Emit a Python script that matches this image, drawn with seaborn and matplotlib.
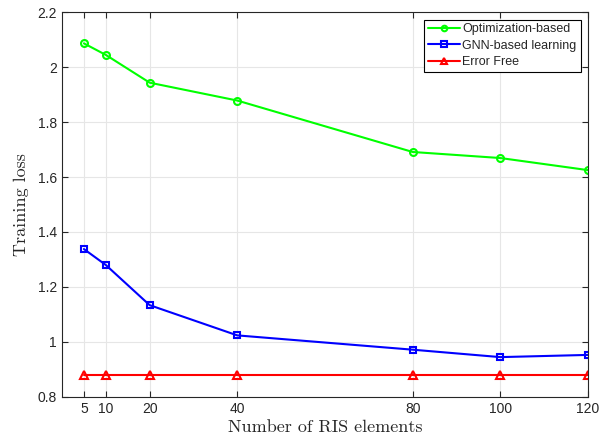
import matplotlib
matplotlib.use("Agg")
import matplotlib.pyplot as plt
import seaborn as sns
import pandas as pd

ris_elements = [5, 10, 20, 40, 80, 100, 120]
optimization_based = [2.086, 2.044, 1.943, 1.878, 1.691, 1.669, 1.625]
gnn_based = [1.338, 1.280, 1.134, 1.024, 0.972, 0.945, 0.953]
error_free = [0.881, 0.881, 0.881, 0.881, 0.881, 0.881, 0.881]
series_names = ["Optimization-based", "GNN-based learning", "Error Free"]
y_ticks = [0.8, 1.0, 1.2, 1.4, 1.6, 1.8, 2.0, 2.2]
y_tick_labels = ["0.8", "1", "1.2", "1.4", "1.6", "1.8", "2", "2.2"]

df = pd.DataFrame({
    "x": ris_elements * 3,
    "y": optimization_based + gnn_based + error_free,
    "series": [series_names[0]] * 7 + [series_names[1]] * 7 + [series_names[2]] * 7,
})

sns.set_style("ticks")
plt.rcParams["font.family"] = ["Liberation Sans", "DejaVu Sans"]

fig = plt.figure(figsize=(6, 4.45), dpi=100)
ax = fig.add_axes([0.1033, 0.1079, 0.8767, 0.8651])

palette = {series_names[0]: (0, 1, 0), series_names[1]: (0, 0, 1), series_names[2]: (1, 0, 0)}
markers = {series_names[0]: "o", series_names[1]: "s", series_names[2]: "^"}
sizes = {series_names[0]: 5, series_names[1]: 4.5, series_names[2]: 5.5}
sns.lineplot(data=df, x="x", y="y", hue="series", style="series", palette=palette,
             markers=markers, dashes=False, ax=ax, linewidth=1.5,
             markersize=5, markerfacecolor="none", markeredgewidth=1.5)
for line, nm in zip(ax.get_lines(), series_names):
    line.set_markeredgecolor(palette[nm])
    line.set_markersize(sizes[nm])

ax.set_xlim(0, 120)
ax.set_ylim(0.8, 2.2)
ax.set_xticks(ris_elements)
ax.set_xticklabels([str(v) for v in ris_elements], fontsize=10)
ax.set_yticks(y_ticks)
ax.set_yticklabels(y_tick_labels, fontsize=10)
ax.grid(True, color="#e6e6e6", linewidth=0.8)
ax.set_axisbelow(True)
ax.tick_params(direction="in", top=True, right=True, length=4, width=0.8, colors="#262626")
for sp in ax.spines.values():
    sp.set_visible(True)
    sp.set_color("#262626")
    sp.set_linewidth(0.8)

ax.set_xlabel("Number of RIS elements", fontfamily="cmr10", fontsize=13, labelpad=3)
ax.set_ylabel("Training loss", fontfamily="cmr10", fontsize=13, labelpad=6)

leg = ax.legend(loc="upper right", fontsize=9, frameon=True, fancybox=False,
                edgecolor="black", framealpha=1, borderpad=0.3, labelspacing=0.35,
                handlelength=2.6, handletextpad=0.2, borderaxespad=0.6)
leg.get_frame().set_linewidth(0.8)
for h, nm in zip(leg.legend_handles, series_names):
    h.set_markeredgecolor(palette[nm])
    h.set_markersize(4)

fig.savefig("out.png", dpi=100)
